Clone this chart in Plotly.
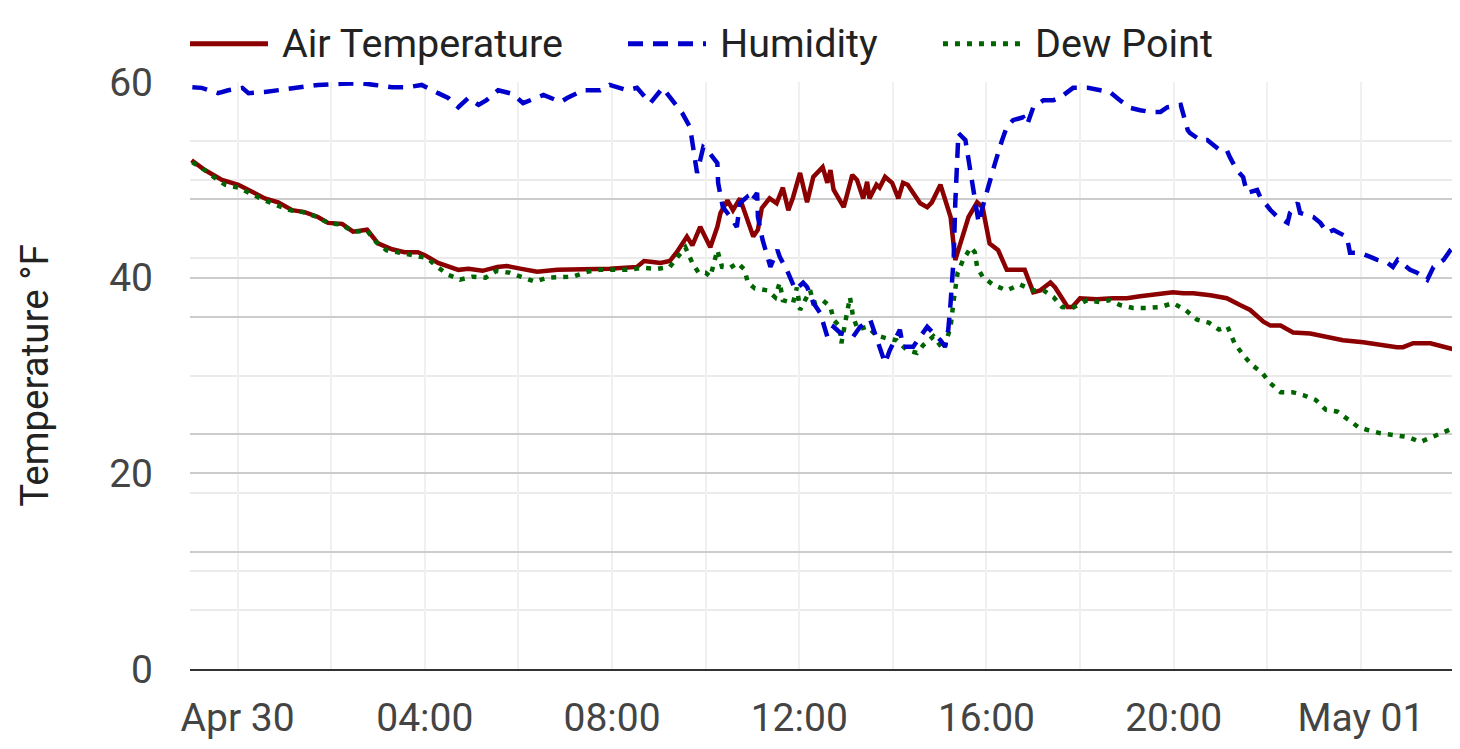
import pandas as pd
import plotly.graph_objects as go

# ---------------- data (minutes from Apr 30 00:00) ----------------
base_day = "2024-04-30"

temp_minutes = [-59, -42, -20, 1, 35, 52, 70, 86, 103, 116, 134, 148, 166, 180, 198, 214, 231, 240,
                257, 283, 296, 314, 333, 345, 364, 384, 410, 443, 477, 512, 521, 532, 542, 554, 563,
                576, 583, 593, 606, 615, 619, 628, 635, 644, 653, 661, 667, 672, 682, 691, 699, 706,
                712, 721, 730, 738, 750, 756, 760, 764, 777, 788, 794, 802, 807, 810, 819, 823, 830,
                839, 847, 853, 859, 875, 884, 890, 901, 907, 914, 920, 929, 937, 948, 955, 964, 975,
                986, 994, 1009, 1020, 1029, 1042, 1048, 1064, 1070, 1080, 1101, 1122, 1140, 1157,
                1174, 1187, 1199, 1212, 1225, 1247, 1268, 1285, 1298, 1315, 1324, 1337, 1353, 1375,
                1397, 1417, 1443, 1465, 1486, 1494, 1507, 1529, 1551, 1567]
air_temperature = [52.0, 51.0, 50.0, 49.5, 48.1, 47.7, 46.9, 46.7, 46.2, 45.6, 45.5, 44.7, 44.9, 43.5,
                   42.9, 42.6, 42.6, 42.3, 41.5, 40.8, 40.9, 40.7, 41.1, 41.2, 40.9, 40.6, 40.8, 40.8,
                   40.9, 41.1, 41.7, 41.6, 41.5, 41.7, 42.6, 44.2, 43.3, 45.2, 43.1, 45.2, 46.6, 47.9,
                   46.9, 48.1, 46.2, 44.2, 44.9, 47.1, 48.1, 47.6, 49.2, 46.9, 48.2, 50.7, 47.7, 50.3,
                   51.3, 49.7, 51.0, 49.0, 47.2, 50.5, 50.0, 48.1, 49.8, 48.1, 49.5, 49.2, 50.3, 49.7,
                   48.1, 49.7, 49.5, 47.6, 47.2, 47.7, 49.5, 47.9, 46.2, 41.8, 44.2, 46.2, 47.7, 47.2,
                   43.5, 42.8, 40.8, 40.8, 40.8, 38.5, 38.7, 39.5, 39.0, 37.0, 37.0, 37.9, 37.8, 37.9,
                   37.9, 38.1, 38.3, 38.4, 38.5, 38.4, 38.4, 38.2, 37.9, 37.2, 36.7, 35.5, 35.1, 35.1,
                   34.4, 34.3, 33.9, 33.6, 33.4, 33.1, 32.9, 32.9, 33.3, 33.3, 32.9, 32.5]

dew_minutes = [-58, -42, -29, -16, 1, 18, 35, 50, 67, 84, 102, 116, 134, 148, 166, 178, 191, 211, 227,
               243, 256, 270, 285, 301, 318, 332, 349, 364, 381, 397, 413, 430, 448, 464, 481, 499,
               520, 538, 554, 563, 574, 583, 591, 600, 606, 615, 621, 631, 641, 650, 654, 663, 679,
               689, 695, 699, 712, 717, 721, 734, 738, 750, 760, 764, 772, 774, 785, 789, 795, 807,
               819, 832, 845, 858, 871, 879, 892, 905, 914, 918, 923, 930, 940, 945, 948, 955, 968,
               986, 1003, 1020, 1033, 1046, 1057, 1070, 1089, 1105, 1118, 1131, 1148, 1166, 1183,
               1199, 1215, 1230, 1245, 1258, 1269, 1278, 1289, 1300, 1313, 1324, 1337, 1352, 1366,
               1382, 1395, 1410, 1424, 1437, 1450, 1465, 1483, 1501, 1516, 1532, 1546, 1561, 1567]
dew_point = [51.8, 51.0, 50.2, 49.5, 49.2, 48.5, 47.9, 47.4, 46.9, 46.7, 46.2, 45.6, 45.4, 44.7, 44.8,
             43.6, 42.8, 42.5, 42.3, 42.0, 41.1, 40.3, 39.8, 40.1, 40.0, 40.7, 40.5, 40.1, 39.6, 40.0,
             40.0, 40.1, 40.6, 40.8, 40.8, 40.8, 41.0, 40.9, 41.1, 42.0, 43.1, 41.5, 40.5, 40.5, 40.1,
             42.8, 41.1, 41.0, 41.5, 40.8, 39.5, 38.9, 38.7, 38.0, 39.5, 37.7, 37.4, 39.0, 36.7, 38.7,
             37.4, 37.7, 37.0, 35.7, 35.0, 33.3, 38.0, 36.0, 34.7, 35.0, 34.1, 33.8, 33.6, 32.6, 32.3,
             33.1, 34.0, 32.6, 35.0, 37.7, 40.5, 41.8, 43.1, 42.6, 41.1, 40.1, 39.3, 38.7, 39.3, 38.7,
             38.7, 38.0, 37.0, 36.9, 37.7, 37.5, 37.7, 37.2, 36.9, 36.9, 37.0, 37.4, 36.7, 35.7, 35.4,
             34.7, 35.0, 33.3, 32.1, 31.1, 30.3, 29.2, 28.3, 28.3, 28.0, 27.5, 26.5, 26.3, 25.5, 24.7,
             24.4, 24.1, 23.9, 23.7, 23.2, 23.7, 24.2, 24.6, 24.9]

humidity_minutes = [-58, -46, -25, -12, 6, 14, 35, 52, 74, 103, 134, 159, 176, 198, 218, 236, 257,
                    270, 283, 296, 309, 319, 334, 352, 366, 392, 414, 423, 443, 465, 477, 499, 512,
                    529, 545, 558, 570, 580, 584, 589, 597, 602, 615, 616, 622, 632, 640, 644, 653,
                    657, 666, 667, 673, 679, 683, 692, 695, 704, 715, 725, 730, 738, 747, 756, 764,
                    773, 789, 798, 811, 820, 830, 836, 849, 853, 866, 875, 884, 892, 901, 907, 911,
                    914, 918, 920, 923, 924, 933, 940, 946, 950, 955, 962, 971, 980, 986, 994, 1007,
                    1012, 1020, 1033, 1046, 1055, 1071, 1090, 1110, 1118, 1131, 1144, 1157, 1170,
                    1183, 1192, 1209, 1218, 1221, 1234, 1243, 1259, 1268, 1272, 1281, 1289, 1294,
                    1307, 1311, 1324, 1333, 1346, 1349, 1359, 1362, 1379, 1388, 1397, 1405, 1422,
                    1426, 1439, 1452, 1461, 1474, 1481, 1487, 1503, 1512, 1525, 1533, 1546, 1555, 1567]
humidity = [99.1, 99.0, 98.1, 98.6, 99.0, 98.1, 98.3, 98.6, 99.0, 99.5, 99.7, 99.8, 99.5, 99.1, 99.1,
            99.5, 98.1, 97.3, 95.7, 97.3, 96.1, 96.9, 98.6, 98.0, 96.4, 97.8, 96.6, 97.3, 98.6, 98.6,
            99.5, 98.6, 99.0, 96.4, 99.0, 96.6, 94.7, 92.3, 88.9, 84.5, 88.9, 88.4, 86.2, 82.8, 78.7,
            77.0, 75.3, 79.4, 80.4, 79.4, 81.1, 77.0, 73.1, 70.2, 68.5, 71.4, 70.2, 68.0, 64.6, 65.8,
            65.1, 62.4, 60.6, 56.6, 58.3, 57.2, 56.6, 58.3, 59.5, 56.0, 52.1, 54.3, 57.8, 54.9, 54.9,
            56.6, 58.3, 57.2, 56.0, 54.9, 57.8, 62.4, 70.2, 79.4, 87.2, 91.3, 90.1, 84.5, 79.9, 76.0,
            78.7, 82.1, 86.2, 90.1, 92.3, 93.5, 94.0, 92.7, 95.7, 96.9, 96.9, 97.4, 99.0, 99.0, 98.6,
            98.3, 96.9, 95.6, 95.2, 94.9, 94.9, 95.7, 96.1, 91.8, 91.3, 90.1, 90.1, 88.4, 88.4, 87.2,
            85.0, 83.8, 81.1, 81.6, 80.4, 78.2, 77.0, 76.0, 77.7, 79.4, 77.7, 77.0, 76.0, 74.3, 74.8,
            73.6, 70.9, 70.9, 70.2, 69.7, 69.2, 68.5, 69.7, 68.0, 67.5, 66.3, 68.5, 69.7, 71.4, 72.7]

series_names = ["Air Temperature", "Humidity", "Dew Point"]

x_range = ["2024-04-29 22:59", "2024-05-01 02:07"]
x_tick_values = ["2024-04-30 00:00", "2024-04-30 02:00", "2024-04-30 04:00", "2024-04-30 06:00",
                 "2024-04-30 08:00", "2024-04-30 10:00", "2024-04-30 12:00", "2024-04-30 14:00",
                 "2024-04-30 16:00", "2024-04-30 18:00", "2024-04-30 20:00", "2024-04-30 22:00",
                 "2024-05-01 00:00", "2024-05-01 02:00"]
x_tick_labels = ["Apr 30", "", "04:00", "", "08:00", "", "12:00", "", "16:00", "", "20:00", "",
                 "May 01", ""]
y_ticks = [0, 20, 40, 60]

# ---------------- styles ----------------
colors = ["#8b0000", "#0000cd", "#006400"]
dashes = ["solid", "15px,10px", "5px,7px"]
line_w = 4.5
grid_major = "#cccccc"
grid_minor = "#ebebeb"


def to_time(minutes):
    return pd.Timestamp(base_day) + pd.to_timedelta(minutes, unit="m")


fig = go.Figure()
fig.add_trace(go.Scatter(x=to_time(temp_minutes), y=air_temperature, name=series_names[0],
                         mode="lines", line=dict(color=colors[0], width=line_w, dash=dashes[0])))
fig.add_trace(go.Scatter(x=to_time(humidity_minutes), y=humidity, name=series_names[1], yaxis="y2",
                         mode="lines", line=dict(color=colors[1], width=line_w, dash=dashes[1])))
fig.add_trace(go.Scatter(x=to_time(dew_minutes), y=dew_point, name=series_names[2],
                         mode="lines", line=dict(color=colors[2], width=line_w, dash=dashes[2])))

# legend drawn as sample lines + labels above the plot area (paper coordinates)
legend_y = 1.065
legend_x0 = [0.0, 0.3449, 0.5929]
sample_len = 0.0614
text_gap = 0.0095
for name, col, dsh, lx in zip(series_names, colors, dashes, legend_x0):
    fig.add_shape(type="line", xref="paper", yref="paper", x0=lx, x1=lx + sample_len,
                  y0=legend_y, y1=legend_y, line=dict(color=col, width=5, dash=dsh))
    fig.add_annotation(xref="paper", yref="paper", x=lx + sample_len + text_gap, y=legend_y,
                       xanchor="left", yanchor="middle", text=name, showarrow=False,
                       font=dict(size=39.5, color="#222222"))

fig.update_layout(
    width=1452, height=741,
    margin=dict(l=182, r=0, t=74, b=80),
    paper_bgcolor="white", plot_bgcolor="white",
    font=dict(family="Roboto", size=39, color="#444444"),
    showlegend=False,
    xaxis=dict(type="date", range=x_range, tickmode="array", tickvals=x_tick_values,
               ticktext=x_tick_labels, showgrid=True, gridcolor="#f0f0f0", gridwidth=2,
               ticks="", showline=True, linecolor="#333333", linewidth=2, zeroline=False,
               ticklabelstandoff=13, tickfont=dict(size=39, color="#444444")),
    yaxis=dict(range=[0, 60], tickmode="array", tickvals=y_ticks, showgrid=True,
               gridcolor=grid_major, gridwidth=2, zeroline=False, ticks="",
               ticklabelstandoff=36,
               title=dict(text="Temperature °F", font=dict(size=38.5, color="#222222"), standoff=48),
               tickfont=dict(size=39, color="#444444"),
               minor=dict(dtick=10, showgrid=True, gridcolor=grid_minor, gridwidth=2)),
    yaxis2=dict(range=[0, 100], overlaying="y", side="right", dtick=20, showgrid=True,
                gridcolor=grid_major, gridwidth=2, showticklabels=False, zeroline=False,
                ticks="", minor=dict(dtick=10, showgrid=True, gridcolor=grid_minor, gridwidth=2)),
)

fig.write_html("out.html")
